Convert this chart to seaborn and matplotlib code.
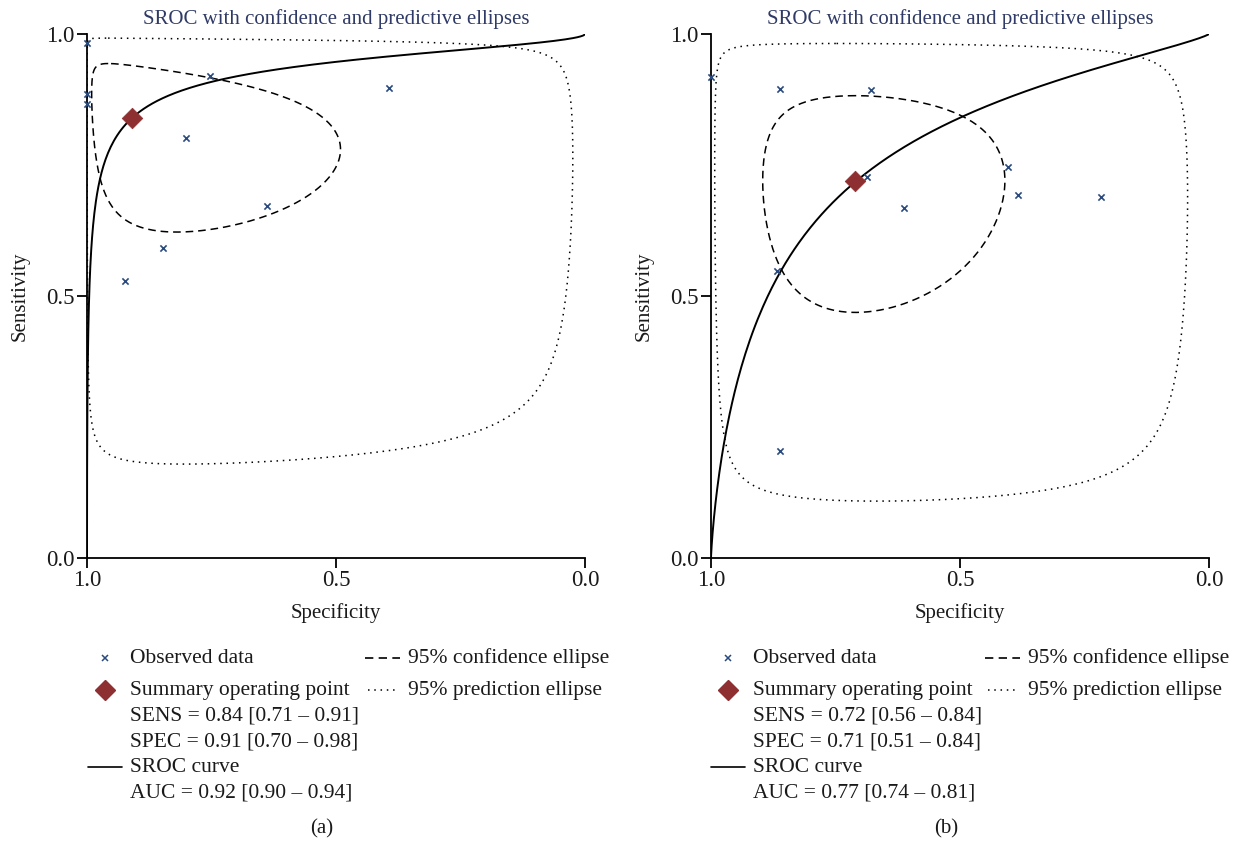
import numpy as np
import pandas as pd
import matplotlib
matplotlib.use("Agg")
import matplotlib.pyplot as plt
from matplotlib.lines import Line2D
import seaborn as sns

# ---------------- data ----------------
# Panel (a) observed studies
a_spec = [1.00, 1.00, 1.00, 0.753, 0.801, 0.394, 0.639, 0.847, 0.924]
a_sens = [0.983, 0.885, 0.866, 0.920, 0.802, 0.897, 0.672, 0.592, 0.529]
a_summary_spec = [0.91]
a_summary_sens = [0.84]
# SROC curve: logit(sens) = intercept + slope * logit(1 - spec)
a_sroc = [2.88, 0.53]
# ellipses in logit space: half-width sens, half-width spec, correlation
a_conf_ellipse = [1.16, 2.35, 0.34]
a_pred_ellipse = [3.18, 6.00, 0.15]
a_legend_values = ["SENS = 0.84 [0.71 \u2013 0.91]",
                   "SPEC = 0.91 [0.70 \u2013 0.98]",
                   "AUC = 0.92 [0.90 \u2013 0.94]"]

# Panel (b) observed studies
b_spec = [1.00, 0.861, 0.679, 0.687, 0.612, 0.404, 0.384, 0.217, 0.867, 0.861]
b_sens = [0.918, 0.895, 0.893, 0.727, 0.668, 0.746, 0.693, 0.689, 0.548, 0.204]
b_summary_spec = [0.71]
b_summary_sens = [0.72]
b_sroc = [1.66, 0.81]
b_conf_ellipse = [1.07, 1.26, 0.0]
b_pred_ellipse = [3.05, 4.00, 0.05]
b_legend_values = ["SENS = 0.72 [0.56 \u2013 0.84]",
                   "SPEC = 0.71 [0.51 \u2013 0.84]",
                   "AUC = 0.77 [0.74 \u2013 0.81]"]

title_text = "SROC with confidence and predictive ellipses"
x_label = "Specificity"
y_label = "Sensitivity"
tick_values = [0.0, 0.5, 1.0]
legend_labels = ["Observed data", "Summary operating point", "SROC curve",
                 "95% confidence ellipse", "95% prediction ellipse"]
captions = ["(a)", "(b)"]

# ---------------- style ----------------
sns.set_theme(style="white")
plt.rcParams["font.family"] = ["Liberation Serif", "DejaVu Serif"]

W, H = 1234, 846
fig = plt.figure(figsize=(W / 100, H / 100), dpi=100)

TITLE_C = "#2f3a66"
PT_C = "#2a4a7f"
SUM_C = "#8e2f31"
FS = 15
TXT_C = "#1a1a1a"
DASH = (0, (5.0, 3.2))
DOT = (0, (1.0, 3.1))


def logit(p):
    p = np.asarray(p, dtype=float)
    return np.log(p / (1 - p))


def expit(z):
    return 1 / (1 + np.exp(-z))


def ellipse_df(sens0, spec0, params):
    hs, hp, rho = params
    t = np.linspace(0, 2 * np.pi, 721)
    u, v = np.cos(t), np.sin(t)
    ls = logit(sens0) + hs * u
    lp = logit(spec0) + hp * (rho * u + np.sqrt(1 - rho ** 2) * v)
    return pd.DataFrame({"spec": expit(lp), "sens": expit(ls)})


def sroc_df(params):
    a, b = params
    fpr = np.concatenate([np.logspace(-9, -1, 300), np.linspace(0.1, 1 - 1e-9, 400)[1:]])
    sens = expit(a + b * logit(fpr))
    return pd.DataFrame({"spec": 1 - fpr, "sens": sens})


def px(x, y):
    return x / W, 1 - y / H


def draw_panel(ax_rect, spec, sens, ss, se, sroc, conf, pred):
    ax = fig.add_axes(ax_rect)
    s0, p0 = se[0], ss[0]
    sns.lineplot(data=ellipse_df(s0, p0, pred), x="spec", y="sens", sort=False,
                 estimator=None, color="black", lw=1.1, linestyle=DOT, ax=ax)
    sns.lineplot(data=ellipse_df(s0, p0, conf), x="spec", y="sens", sort=False,
                 estimator=None, color="black", lw=1.1, linestyle=DASH, ax=ax)
    sns.lineplot(data=sroc_df(sroc), x="spec", y="sens", sort=False, estimator=None,
                 color="black", lw=1.4, ax=ax)
    obs = pd.DataFrame({"spec": spec, "sens": sens})
    sns.scatterplot(data=obs, x="spec", y="sens", marker="x", s=20, color=PT_C,
                    linewidth=1.2, ax=ax, zorder=5, clip_on=False)
    summ = pd.DataFrame({"spec": ss, "sens": se})
    sns.scatterplot(data=summ, x="spec", y="sens", marker="D", s=110, color=SUM_C,
                    edgecolor=SUM_C, linewidth=0.5, ax=ax, zorder=6)
    ax.set_xlim(1.0, 0.0)
    ax.set_ylim(0.0, 1.0)
    ax.set_xticks(tick_values)
    ax.set_yticks(tick_values)
    ax.set_xticklabels([f"{v:.1f}" for v in tick_values], fontsize=FS + 1.5)
    ax.set_yticklabels([f"{v:.1f}" for v in tick_values], fontsize=FS + 1.5)
    for s in ["top", "right"]:
        ax.spines[s].set_visible(False)
    for s in ["left", "bottom"]:
        ax.spines[s].set_color("black")
        ax.spines[s].set_linewidth(1.3)
    ax.tick_params(axis="both", direction="out", length=7, width=1.3, color="black",
                   bottom=True, left=True, pad=2, labelcolor=TXT_C)
    ax.set_xlabel(x_label, fontsize=FS, labelpad=8, color=TXT_C)
    ax.set_ylabel(y_label, fontsize=FS, labelpad=12, color=TXT_C)
    ax.set_title(title_text, fontsize=FS, color=TITLE_C, pad=7)
    ax.patch.set_alpha(0)
    return ax


def draw_legend(x0, col2_x, values, caption_x, caption):
    rows = [658, 690, 716, 742, 767, 793]
    tx = x0 + 43
    fig.add_artist(Line2D([px(x0 + 18, 0)[0]], [px(0, rows[0])[1]], marker="x", ms=5,
                          mew=1.1, color=PT_C, lw=0, transform=fig.transFigure))
    fig.add_artist(Line2D([px(x0 + 18, 0)[0]], [px(0, rows[1])[1]], marker="D", ms=10,
                          color=SUM_C, lw=0, transform=fig.transFigure))
    fig.add_artist(Line2D([px(x0 + 1, 0)[0], px(x0 + 35, 0)[0]], [px(0, rows[4])[1]] * 2,
                          color="black", lw=1.2, transform=fig.transFigure))
    fig.add_artist(Line2D([px(col2_x, 0)[0], px(col2_x + 35, 0)[0]], [px(0, rows[0])[1]] * 2,
                          color="black", lw=1.2, linestyle=DASH,
                          transform=fig.transFigure))
    fig.add_artist(Line2D([px(col2_x + 3, 0)[0], px(col2_x + 33, 0)[0]], [px(0, rows[1])[1]] * 2,
                          color="black", lw=1.1, linestyle=DOT,
                          transform=fig.transFigure))
    texts = [(tx, rows[0], legend_labels[0]), (tx, rows[1], legend_labels[1]),
             (tx, rows[2], values[0]), (tx, rows[3], values[1]),
             (tx, rows[4], legend_labels[2]), (tx, rows[5], values[2]),
             (col2_x + 43, rows[0], legend_labels[3]),
             (col2_x + 43, rows[1], legend_labels[4])]
    for x, y, s in texts:
        fx, fy = px(x, y)
        fig.text(fx, fy, s, fontsize=FS + 0.5, ha="left", va="center", color=TXT_C)
    fx, fy = px(caption_x, 829)
    fig.text(fx, fy, caption, fontsize=FS, ha="center", va="center", color=TXT_C)


ax_h = (558 - 34) / H
ax_b = 1 - 558 / H
draw_panel([87 / W, ax_b, 498 / W, ax_h], a_spec, a_sens, a_summary_spec, a_summary_sens,
           a_sroc, a_conf_ellipse, a_pred_ellipse)
draw_panel([711 / W, ax_b, 498 / W, ax_h], b_spec, b_sens, b_summary_spec, b_summary_sens,
           b_sroc, b_conf_ellipse, b_pred_ellipse)

draw_legend(87, 365, a_legend_values, 322, captions[0])
draw_legend(710, 985, b_legend_values, 946, captions[1])

fig.savefig("out.png", dpi=100, facecolor="white")
